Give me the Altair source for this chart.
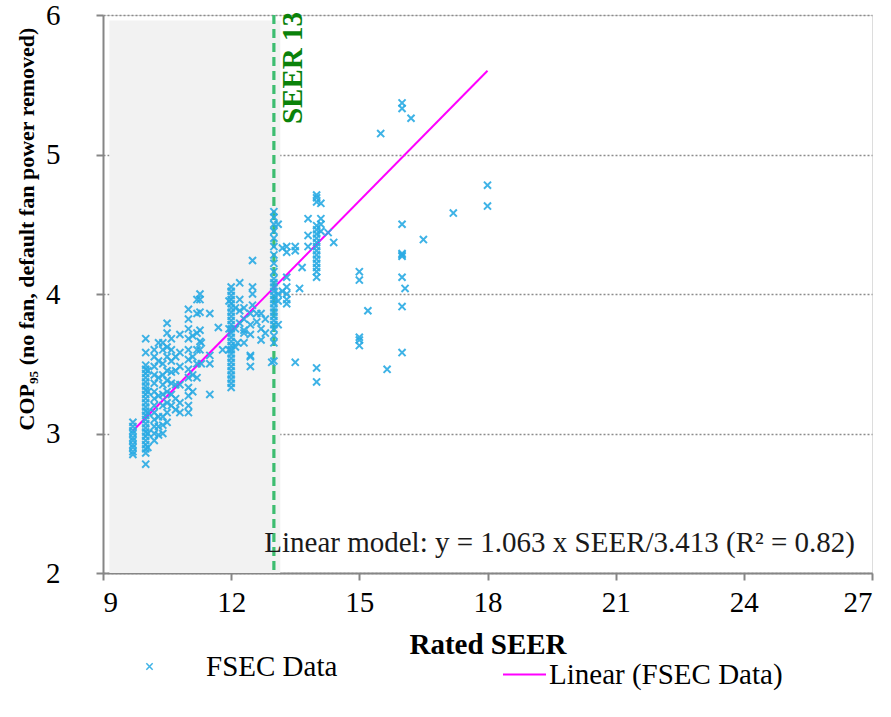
import altair as alt
import pandas as pd

# ---- data ----
seer_columns = [9.7, 10.0, 10.05, 10.2, 10.3, 10.4, 10.5, 10.6, 10.7, 10.8,
                11.0, 11.1, 11.2, 11.27, 11.3, 11.5, 11.7, 11.8,
                11.95, 12.0, 12.1, 12.15, 12.2, 12.3, 12.45, 12.5, 12.6, 12.7, 12.8,
                12.95, 13.0, 13.1, 13.2, 13.3, 13.5, 13.6, 13.66, 13.8,
                14.0, 14.1, 14.27, 14.4, 15.0, 15.2, 15.5, 15.65,
                16.0, 16.07, 16.21, 16.5, 17.2, 18.0]
cop_columns = [
    [3.08, 3.05, 3.02, 3.0, 2.97, 2.95, 2.92, 2.9, 2.87, 2.85],
    [3.68, 3.58, 3.49, 3.46, 3.43, 3.40, 3.37, 3.34, 3.31, 3.28, 3.25, 3.22,
     3.19, 3.16, 3.13, 3.10, 3.07, 3.04, 3.01, 2.98, 2.95, 2.92, 2.89, 2.86, 2.78],
    [3.45, 3.3, 3.15, 3.0, 2.9],
    [3.60, 3.55, 3.48, 3.42, 3.36, 3.3, 3.25, 3.2, 3.15, 3.1, 3.05, 3.0, 2.95],
    [3.65, 3.52, 3.4, 3.27, 3.12, 3.05, 2.99],
    [3.65, 3.6, 3.5, 3.42, 3.35, 3.28, 3.2, 3.12, 3.06, 3.0],
    [3.79, 3.72, 3.62, 3.55, 3.45, 3.38, 3.3, 3.22, 3.15, 3.08],
    [3.68, 3.6, 3.52, 3.44, 3.36, 3.28, 3.2],
    [3.55, 3.45, 3.35, 3.25, 3.17],
    [3.71, 3.58, 3.48, 3.35, 3.22, 3.15],
    [3.89, 3.82, 3.75, 3.68, 3.6, 3.53, 3.46, 3.4, 3.33, 3.27, 3.2, 3.15],
    [3.7, 3.55, 3.42, 3.3],
    [3.96, 3.86, 3.72, 3.6, 3.5, 3.4],
    [4.0, 3.96, 3.87, 3.74, 3.66, 3.6],
    [3.65, 3.5],
    [3.86, 3.56, 3.5, 3.28],
    [3.76],
    [3.6],
    [3.95, 3.75, 3.6],
    [4.05, 4.02, 3.99, 3.96, 3.93, 3.9, 3.87, 3.84, 3.81, 3.78, 3.75, 3.72,
     3.69, 3.66, 3.63, 3.6, 3.57, 3.54, 3.51, 3.48, 3.45, 3.42, 3.39, 3.36, 3.33],
    [3.9, 3.75, 3.62],
    [3.65],
    [4.08, 3.96, 3.88, 3.79],
    [3.9, 3.82, 3.74, 3.72, 3.65],
    [3.86, 3.78, 3.71, 3.56, 3.55, 3.48],
    [4.24, 4.05, 4.0, 3.92],
    [3.86, 3.8],
    [3.86, 3.75, 3.67],
    [3.82, 3.72],
    [3.51],
    [4.59, 4.55, 4.5, 4.45, 4.4, 4.34, 4.28, 4.22, 4.16, 4.11, 4.08, 4.05,
     4.02, 3.99, 3.96, 3.93, 3.9, 3.87, 3.84, 3.81, 3.78, 3.75, 3.7, 3.65, 3.52],
    [4.5, 4.0, 3.95, 3.78],
    [4.33, 4.02],
    [4.34, 4.3, 4.12, 4.05, 4.0, 3.96, 3.93],
    [4.34, 4.31, 3.51],
    [4.04],
    [4.19],
    [4.54, 4.42, 4.34],
    [4.71, 4.69, 4.66, 4.49, 4.46, 4.43, 4.4, 4.37, 4.34, 4.31, 4.28, 4.25,
     4.22, 4.19, 4.16, 4.12, 3.47, 3.37],
    [4.65, 4.54, 4.5, 4.45],
    [4.44],
    [4.37],
    [4.16, 4.1, 3.69, 3.67, 3.63],
    [3.88],
    [5.15],
    [3.46],
    [5.37, 5.33, 4.5, 4.29, 4.28, 4.27, 4.12, 3.91, 3.58],
    [4.04],
    [5.26],
    [4.39],
    [4.58],
    [4.78, 4.63],
]

fit_seer = [9.7, 18.0]
fit_cop = [3.02, 5.6]

threshold_seer = [13]
shade_seer = [9.15, 13.15]
shade_cop = [2.0, 5.96]

x_ticks = [9, 12, 15, 18, 21, 24, 27]
y_ticks = [2, 3, 4, 5, 6]

# ---- tables ----
rows = []
for s, cs in zip(seer_columns, cop_columns):
    for c in cs:
        rows.append({"seer": s, "cop": c, "series": "FSEC Data"})
pts = pd.DataFrame(rows)
fit = pd.DataFrame({"seer": fit_seer, "cop": fit_cop, "series": "Linear (FSEC Data)"})
thr = pd.DataFrame({"seer": threshold_seer})
shade = pd.DataFrame({"x0": [shade_seer[0]], "x1": [shade_seer[1]],
                      "y0": [shade_cop[0]], "y1": [shade_cop[1]]})

FONT = "Liberation Serif"
FS = 29
xs = alt.Scale(domain=[9, 27], nice=False, zero=False)
ys = alt.Scale(domain=[2, 6], nice=False, zero=False)

x_axis = alt.Axis(values=x_ticks, format="d", title="Rated SEER", grid=False,
                  labelFont=FONT, labelFontSize=FS, labelColor="#000",
                  titleFont=FONT, titleFontSize=FS, titleFontWeight="bold",
                  titleColor="#000", titlePadding=13, labelPadding=8,
                  tickColor="#868686", tickSize=7, tickWidth=2,
                  domainColor="#868686", domainWidth=2)
y_axis = alt.Axis(values=y_ticks, format="d", title=None,
                  grid=True, gridColor="#8c8c8c", gridDash=[2, 2], gridWidth=1.5,
                  labelFont=FONT, labelFontSize=FS, labelColor="#000", labelPadding=36,
                  tickColor="#868686", tickSize=7, tickWidth=2,
                  domainColor="#868686", domainWidth=2)

shade_layer = alt.Chart(shade).mark_rect(color="#f2f2f2").encode(
    x=alt.X("x0:Q", scale=xs, axis=x_axis), x2="x1",
    y=alt.Y("y0:Q", scale=ys, axis=y_axis), y2="y1")

thr_layer = alt.Chart(thr).mark_rule(color="#3dbd70", strokeWidth=3.2,
                                     strokeDash=[9, 5]).encode(
    x=alt.X("seer:Q", scale=xs))

thr_text = alt.Chart(thr).mark_text(text="SEER 13", angle=270, align="right",
                                    baseline="top", font=FONT, fontSize=29,
                                    fontWeight="bold", color="#0a820a").encode(
    x=alt.value(176), y=alt.value(-3))

y_title = alt.Chart(thr).mark_text(text="COP₉₅ (no fan, default fan power removed)",
                                   angle=270, align="center", baseline="middle",
                                   lineBreak="|", limit=2000,
                                   font=FONT, fontSize=22, fontWeight="bold",
                                   color="#000").encode(
    x=alt.value(-76), y=alt.value(214))

xpath = "M-1,-1L1,1M1,-1L-1,1"
pt_layer = alt.Chart(pts).mark_point(shape=xpath, filled=False, size=50,
                                     strokeWidth=2, opacity=0.9).encode(
    x=alt.X("seer:Q", scale=xs),
    y=alt.Y("cop:Q", scale=ys),
    color=alt.Color("series:N",
                    scale=alt.Scale(domain=["FSEC Data"], range=["#2aabe4"]),
                    legend=alt.Legend(title=None, orient="none", legendX=32,
                                      legendY=637, symbolType=xpath, symbolSize=40,
                                      symbolStrokeWidth=1.5, labelFont=FONT,
                                      labelFontSize=FS, labelColor="#000",
                                      labelOffset=42, labelLimit=0)))

fit_layer = alt.Chart(fit).mark_line(strokeWidth=2).encode(
    x=alt.X("seer:Q", scale=xs),
    y=alt.Y("cop:Q", scale=ys),
    stroke=alt.Stroke("series:N",
                      scale=alt.Scale(domain=["Linear (FSEC Data)"], range=["#ff00ff"]),
                      legend=alt.Legend(title=None, orient="none", legendX=399,
                                        legendY=637, symbolType="stroke",
                                        symbolSize=1849, symbolStrokeWidth=2,
                                        labelFont=FONT, labelFontSize=FS,
                                        labelColor="#000", labelOffset=2,
                                        labelLimit=0)))

ann = alt.Chart(thr).mark_text(
    text="Linear model: y = 1.063 x SEER/3.413 (R² = 0.82)",
    align="right", baseline="middle", font=FONT, fontSize=FS, color="#1a1a1a").encode(
    x=alt.value(752), y=alt.value(528))

chart = alt.layer(shade_layer, thr_layer, fit_layer, pt_layer, thr_text, y_title, ann).properties(
    width=769, height=558,
    autosize=alt.AutoSizeParams(type="none"),
    padding={"left": 103, "top": 15, "right": 19, "bottom": 144},
).configure_view(stroke="#8c8c8c", strokeWidth=1.5).configure(background="white")

chart.save("out.html", embed_options={"renderer": "svg", "actions": False})
